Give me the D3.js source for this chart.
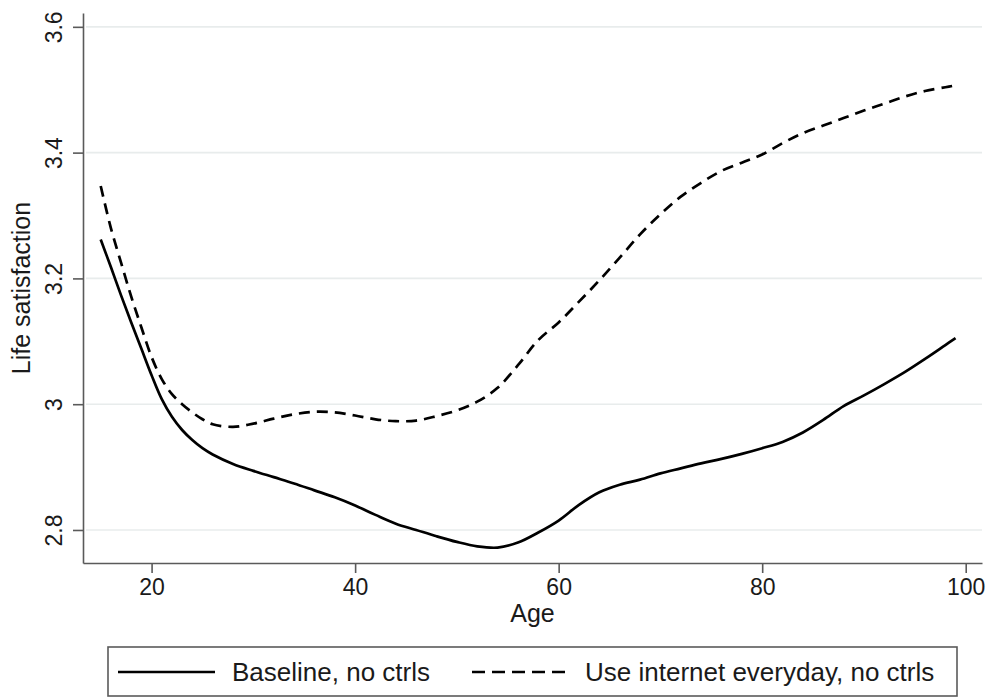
<!DOCTYPE html>
<html>
<head>
<meta charset="utf-8">
<script src="https://cdn.jsdelivr.net/npm/d3@7"></script>
<style>
  html, body { margin: 0; padding: 0; background: #fff; }
  svg { display: block; font-family: "Liberation Sans", Arial, sans-serif; }
</style>
</head>
<body>
<svg id="chart" width="993" height="698"></svg>
<script>
// ---- data ----
const ages = [15,16,17,18,19,20,21,22,23,24,25,26,28,30,32,34,36,38,40,42,44,46,48,50,52,54,56,58,60,62,64,66,68,70,72,74,76,78,80,82,84,86,88,90,92,94,96,98,99];
const baseline = [3.262,3.218,3.173,3.130,3.088,3.046,3.008,2.980,2.959,2.943,2.930,2.920,2.905,2.894,2.884,2.874,2.863,2.852,2.839,2.824,2.810,2.800,2.790,2.781,2.774,2.772,2.780,2.796,2.815,2.840,2.860,2.872,2.880,2.890,2.898,2.906,2.913,2.921,2.930,2.940,2.955,2.975,2.997,3.014,3.032,3.051,3.072,3.094,3.105];
const internet = [3.347,3.280,3.225,3.171,3.122,3.075,3.040,3.016,3.000,2.987,2.976,2.968,2.964,2.969,2.977,2.984,2.988,2.987,2.982,2.976,2.973,2.974,2.981,2.990,3.004,3.026,3.062,3.102,3.130,3.163,3.197,3.233,3.270,3.302,3.330,3.352,3.371,3.384,3.397,3.415,3.431,3.443,3.455,3.467,3.478,3.489,3.498,3.504,3.507];
const xTicks = [20,40,60,80,100];
const yTicks = [2.8,3,3.2,3.4,3.6];
const seriesNames = ["Baseline, no ctrls","Use internet everyday, no ctrls"];
const xDomain = [13.26, 101.6];
const yDomain = [2.7475, 3.622];

// ---- layout ----
const svg = d3.select("#chart");
const L = 83, R = 982, T = 13, B = 563;
const x = d3.scaleLinear().domain(xDomain).range([L, R]);
const y = d3.scaleLinear().domain(yDomain).range([B, T]);
const axisColor = "#5a5a5a";
const textColor = "#1a1a1a";

// gridlines
svg.append("g").selectAll("line").data(yTicks).join("line")
  .attr("x1", L + 3).attr("x2", R)
  .attr("y1", d => y(d)).attr("y2", d => y(d))
  .attr("stroke", "#e8ecec").attr("stroke-width", 1.6);

// lines
const line = d3.line().curve(d3.curveCatmullRom.alpha(0.5)).x((d, i) => x(ages[i])).y(d => y(d));
svg.append("path").datum(baseline).attr("d", line)
  .attr("fill", "none").attr("stroke", "#000").attr("stroke-width", 2.7);
svg.append("path").datum(internet).attr("d", line)
  .attr("fill", "none").attr("stroke", "#000").attr("stroke-width", 2.7)
  .attr("stroke-dasharray", "11,7");

// axes
const yAxis = svg.append("g").attr("transform", `translate(${L},0)`)
  .call(d3.axisLeft(y).tickValues(yTicks).tickSize(10).tickSizeOuter(0).tickFormat(d3.format("~g")));
const xAxis = svg.append("g").attr("transform", `translate(0,${B})`)
  .call(d3.axisBottom(x).tickValues(xTicks).tickSize(10).tickSizeOuter(0).tickFormat(d3.format("~g")));
[yAxis, xAxis].forEach(a => {
  a.select(".domain").attr("stroke", axisColor).attr("stroke-width", 1.6);
  a.selectAll(".tick line").attr("stroke", axisColor).attr("stroke-width", 1.6);
  a.selectAll(".tick text").attr("fill", textColor).style("font-size", "23px")
    .style("font-family", '"Liberation Sans", Arial, sans-serif');
});
yAxis.selectAll(".tick text")
  .attr("transform", "rotate(-90)")
  .attr("x", 0).attr("y", -21).attr("dy", 0)
  .attr("text-anchor", "middle");
xAxis.selectAll(".tick text").attr("y", 16).attr("dy", "0.71em");

// axis titles
svg.append("text").attr("x", (L + R) / 2).attr("y", 622)
  .attr("text-anchor", "middle").attr("fill", textColor)
  .style("font-size", "25px").text("Age");
svg.append("text").attr("transform", `translate(30,${(T + B) / 2}) rotate(-90)`)
  .attr("text-anchor", "middle").attr("fill", textColor)
  .style("font-size", "25px").text("Life satisfaction");

// legend
const lg = svg.append("g");
lg.append("rect").attr("x", 108).attr("y", 647).attr("width", 849).attr("height", 49)
  .attr("fill", "#fff").attr("stroke", axisColor).attr("stroke-width", 1.6);
const items = [
  {name: seriesNames[0], x0: 118, x1: 215, tx: 232, dash: null},
  {name: seriesNames[1], x0: 472, x1: 565, tx: 585, dash: "13,7"}
];
items.forEach(it => {
  lg.append("line").attr("x1", it.x0).attr("x2", it.x1).attr("y1", 672).attr("y2", 672)
    .attr("stroke", "#000").attr("stroke-width", 2.7)
    .attr("stroke-dasharray", it.dash);
  lg.append("text").attr("x", it.tx).attr("y", 681).attr("fill", textColor)
    .style("font-size", "26px").text(it.name);
});
</script>
</body>
</html>
